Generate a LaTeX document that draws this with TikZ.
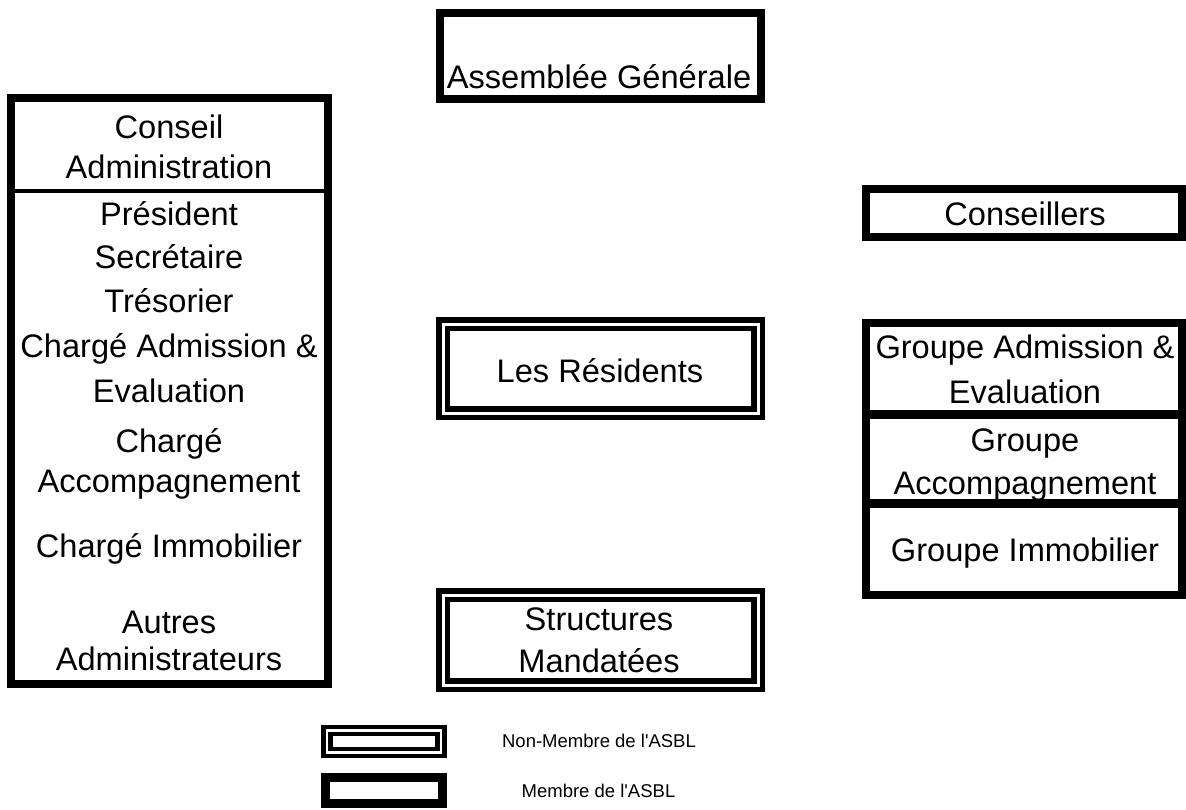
\documentclass[tikz,border=0pt]{standalone}
\usepackage{fontspec}
\setmainfont{Liberation Sans}[Ligatures=TeXOff]
\begin{document}
\begin{tikzpicture}[x=1pt,y=-1pt,
  membre/.style={draw=black, line width=8pt, inner sep=0pt, minimum width=#1},
  nonmembre/.style={draw=black, double=white, line width=5.5pt, double distance=3pt, inner sep=0pt},
  lbl/.style={anchor=base, inner sep=0pt, font=\fontsize{32.6}{38}\selectfont},
  leg/.style={anchor=base, inner sep=0pt, font=\fontsize{18.5}{22}\selectfont},
  divider/.style={line width=9pt}
]
\useasboundingbox (0,0) rectangle (1186,809);
% Assemblee Generale
\node[membre=321pt, minimum height=86pt] (ag) at (600.5,56) {};
\node[lbl] (agt) at (599,88) {Assemblée Générale};
% Conseil Administration
\node[membre=317pt, minimum height=586pt] (ca) at (169.5,391) {};
\coordinate (cadiv) at (0,191);
\draw[line width=4.5pt] (ca.west |- cadiv) -- (ca.east |- cadiv);
\node[lbl] (ca1) at (169,138) {Conseil};
\node[lbl] (ca2) at (169,178) {Administration};
\node[lbl] (ca3) at (169,225) {Président};
\node[lbl] (ca4) at (169,268) {Secrétaire};
\node[lbl] (ca5) at (169,312) {Trésorier};
\node[lbl] (ca6) at (169,357) {Chargé Admission \&};
\node[lbl] (ca7) at (169,402) {Evaluation};
\node[lbl] (ca8) at (169,452) {Chargé};
\node[lbl] (ca9) at (169,492) {Accompagnement};
\node[lbl] (ca10) at (169,557) {Chargé Immobilier};
\node[lbl] (ca11) at (169,633) {Autres};
\node[lbl] (ca12) at (169,670) {Administrateurs};
% Conseillers
\node[membre=316pt, minimum height=48pt] (cs) at (1024,213) {};
\node[lbl] (cst) at (1025,225) {Conseillers};
% Groupes
\node[membre=316pt, minimum height=272pt] (gr) at (1024,459) {};
\coordinate (grdiv1) at (0,414.5);
\coordinate (grdiv2) at (0,503);
\draw[divider] (gr.west |- grdiv1) -- (gr.east |- grdiv1);
\draw[divider] (gr.west |- grdiv2) -- (gr.east |- grdiv2);
\node[lbl] (gr1) at (1025,358) {Groupe Admission \&};
\node[lbl] (gr2) at (1025,403) {Evaluation};
\node[lbl] (gr3) at (1025,451) {Groupe};
\node[lbl] (gr4) at (1025,494) {Accompagnement};
\node[lbl] (gr5) at (1025,561) {Groupe Immobilier};
% Les Residents
\node[nonmembre, minimum width=315pt, minimum height=89pt] (lr) at (600.5,368.5) {};
\node[lbl] (lrt) at (600,382) {Les Résidents};
% Structures Mandatees
\node[nonmembre, minimum width=315pt, minimum height=90pt] (sm) at (600.5,640) {};
\node[lbl] (sm1) at (599,630) {Structures};
\node[lbl] (sm2) at (599,672) {Mandatées};
% Legend
\node[draw=black, double=white, line width=4.5pt, double distance=2.5pt, inner sep=0pt,
      minimum width=114pt, minimum height=22pt] (lg1) at (384,741.5) {};
\node[leg] (lg1t) at (599,747) {Non-Membre de l'ASBL};
\node[draw=black, line width=9pt, inner sep=0pt, minimum width=117pt, minimum height=26pt] (lg2) at (384,790.5) {};
\node[leg] (lg2t) at (598.5,797) {Membre de l'ASBL};
\end{tikzpicture}
\end{document}
